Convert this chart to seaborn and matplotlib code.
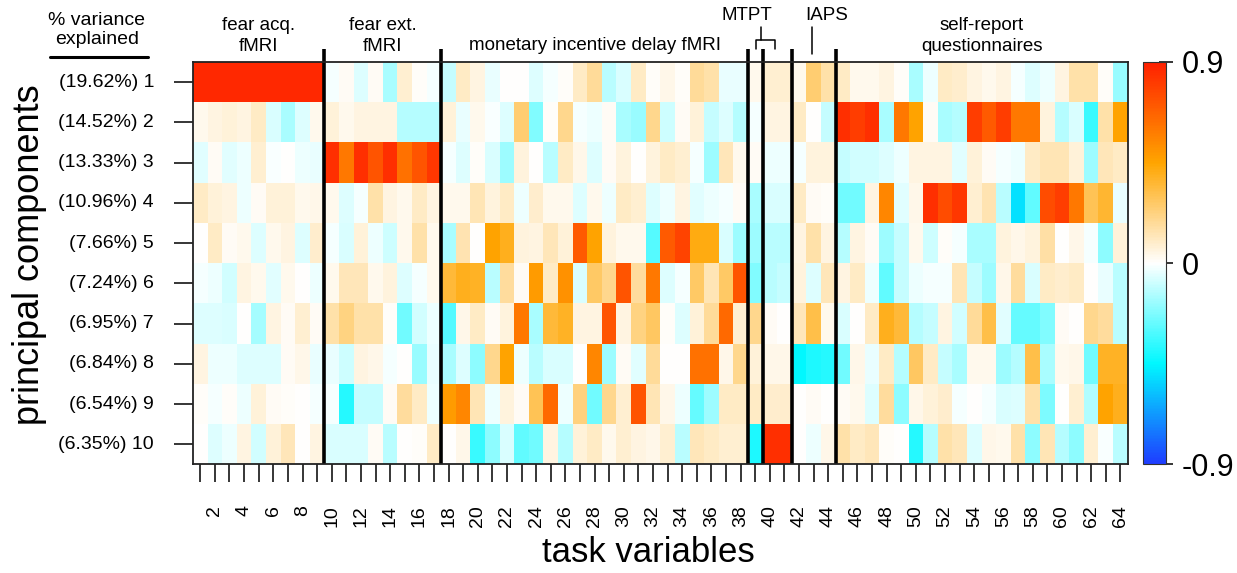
import numpy as np
import pandas as pd
import matplotlib
matplotlib.use("Agg")
import matplotlib.pyplot as plt
from matplotlib.colors import LinearSegmentedColormap
from matplotlib.lines import Line2D
import seaborn as sns

# % variance explained per principal component
variance = ["19.62", "14.52", "13.33", "10.96", "7.66", "7.24", "6.95", "6.84", "6.54", "6.35"]

# loadings of the 64 task variables on each component
pc1 = [0.87, 0.87, 0.87, 0.87, 0.87, 0.87, 0.87, 0.87, 0.87,
       -0.02, 0.02, -0.06, 0.02, -0.15, 0.08, 0.01, -0.02,
       -0.10, 0.10, 0.05, -0.04, 0.00, 0.00, -0.06, -0.02, 0.01, 0.10, 0.18, -0.12, -0.07, 0.10, 0.01, 0.04,
       0.01, 0.18, 0.15, -0.04, -0.04, 0.03, 0.08, 0.08, 0.03, 0.25, 0.15, 0.10, 0.03, 0.03, 0.05,
       0.01, -0.15, -0.03, 0.10, 0.09, 0.05, 0.03, 0.05, -0.02, -0.06, -0.03, 0.05, 0.15, 0.15, 0.01, -0.18]
pc2 = [0.03, 0.05, 0.07, 0.05, 0.10, -0.07, -0.15, -0.06, 0.03,
       0.07, 0.03, 0.05, 0.05, 0.05, -0.13, -0.13, -0.13,
       0.07, -0.04, 0.03, -0.01, -0.06, 0.25, -0.22, 0.01, 0.20, -0.02, -0.03, 0.02, -0.15, -0.18, 0.20, -0.09,
       0.02, 0.07, -0.10, -0.06, -0.13, -0.02, 0.05, 0.05, 0.10, 0.00, -0.10, 0.85, 0.80, 0.85, -0.15,
       0.60, 0.45, 0.02, -0.15, -0.13, 0.80, 0.70, 0.80, 0.60, 0.60, 0.06, -0.13, -0.07, -0.35, 0.15, 0.45]
pc3 = [-0.05, 0.02, -0.05, -0.03, 0.08, -0.01, 0.00, -0.03, -0.04,
       0.85, 0.60, 0.85, 0.72, 0.85, 0.62, 0.72, 0.82,
       -0.02, -0.06, 0.01, -0.07, -0.17, 0.06, 0.00, -0.12, 0.10, 0.04, -0.06, 0.02, 0.06, 0.00, 0.06, 0.10,
       0.08, -0.02, -0.17, 0.12, 0.03, 0.02, -0.03, -0.03, -0.02, 0.06, 0.06, -0.10, -0.08, -0.08, -0.06,
       -0.03, 0.05, 0.05, 0.05, -0.05, 0.07, 0.02, -0.02, -0.03, 0.10, 0.13, 0.13, 0.07, -0.17, 0.12, 0.10]
pc4 = [0.10, 0.07, 0.05, -0.03, 0.02, 0.07, 0.07, 0.03, 0.04,
       0.03, -0.06, -0.02, 0.15, 0.05, 0.03, 0.10, 0.05,
       0.03, 0.03, 0.13, 0.06, 0.10, -0.03, 0.09, 0.03, 0.03, -0.06, 0.03, -0.03, 0.10, 0.08, -0.06, -0.03,
       0.05, -0.05, -0.03, -0.02, 0.02, -0.15, -0.07, -0.07, 0.10, 0.02, 0.01, -0.25, -0.25, 0.05, 0.55,
       -0.05, 0.04, 0.85, 0.75, 0.82, 0.08, 0.14, -0.12, -0.50, -0.28, 0.75, 0.80, 0.60, 0.30, 0.36, -0.04]
pc5 = [0.00, 0.10, 0.02, 0.03, -0.06, 0.03, 0.05, -0.06, 0.09,
       -0.02, -0.07, 0.07, -0.03, -0.09, 0.03, 0.15, 0.03,
       -0.15, 0.14, 0.00, 0.45, 0.40, 0.06, 0.05, 0.12, 0.07, 0.70, 0.45, 0.06, 0.03, 0.03, -0.30, 0.70,
       0.78, 0.42, 0.42, -0.07, -0.17, -0.17, -0.12, -0.12, 0.05, 0.15, 0.05, -0.13, 0.05, 0.02, -0.17,
       -0.10, 0.03, -0.09, 0.01, -0.02, -0.15, -0.15, 0.06, 0.04, 0.06, 0.16, 0.00, 0.04, -0.02, -0.20, 0.07]
pc6 = [-0.02, -0.03, -0.08, 0.05, 0.03, -0.05, 0.03, 0.00, -0.03,
       0.03, 0.12, 0.12, 0.03, 0.06, -0.06, -0.02, 0.03,
       0.35, 0.40, 0.38, -0.12, 0.17, 0.02, 0.48, 0.10, 0.52, -0.07, 0.27, 0.20, 0.72, 0.17, 0.60, -0.06,
       -0.02, 0.27, 0.13, 0.27, 0.72, -0.22, -0.12, -0.10, 0.06, -0.06, 0.12, 0.05, 0.10, -0.03, -0.28,
       -0.10, -0.03, -0.02, -0.02, 0.13, -0.10, -0.17, 0.04, 0.17, -0.07, 0.10, 0.09, 0.10, 0.00, -0.04, -0.12]
pc7 = [-0.06, -0.06, -0.07, 0.00, -0.16, 0.05, 0.02, 0.08, 0.02,
       0.15, 0.22, 0.15, 0.15, 0.01, -0.25, -0.08, -0.03,
       -0.30, 0.04, 0.10, 0.02, 0.06, 0.60, -0.15, 0.35, 0.38, 0.05, 0.05, 0.72, 0.05, 0.22, 0.28, 0.01,
       -0.06, 0.07, 0.18, 0.65, 0.08, 0.20, 0.02, 0.00, 0.12, 0.32, 0.03, -0.07, 0.00, 0.10, 0.40,
       0.35, -0.13, -0.10, 0.05, -0.08, 0.18, 0.32, -0.05, -0.27, -0.27, -0.22, 0.02, 0.00, 0.20, 0.17, -0.12]
pc8 = [0.05, -0.03, -0.03, -0.06, -0.06, -0.06, 0.02, 0.04, -0.04,
       -0.04, -0.09, 0.05, 0.04, -0.02, 0.00, -0.18, -0.04,
       -0.15, -0.06, -0.20, 0.20, 0.45, -0.03, -0.12, -0.07, -0.07, 0.00, 0.55, -0.17, 0.02, -0.05, 0.18, 0.00,
       0.00, 0.62, 0.62, 0.04, 0.20, 0.07, 0.04, 0.04, -0.45, -0.40, -0.38, -0.25, 0.04, -0.04, 0.10,
       -0.13, 0.28, 0.10, -0.10, -0.15, 0.03, 0.03, -0.17, -0.13, 0.32, -0.15, 0.03, 0.04, -0.25, 0.38, 0.38]
pc9 = [0.01, -0.02, 0.01, -0.03, 0.07, 0.02, 0.01, 0.00, -0.02,
       -0.02, -0.38, -0.10, -0.10, 0.02, 0.17, 0.10, -0.03,
       0.48, 0.55, 0.13, -0.03, 0.06, 0.02, 0.30, 0.65, -0.03, 0.23, -0.25, 0.20, 0.08, 0.72, 0.13, 0.04,
       -0.03, -0.27, -0.17, 0.10, 0.10, 0.10, 0.09, 0.09, 0.00, 0.02, 0.00, 0.02, 0.03, -0.06, 0.17,
       -0.20, 0.04, 0.07, 0.09, -0.02, 0.00, -0.02, -0.07, -0.06, 0.15, -0.23, 0.00, 0.08, -0.14, 0.45, 0.40]
pc10 = [0.00, -0.06, -0.03, 0.05, -0.08, 0.07, 0.12, 0.00, 0.05,
        -0.07, -0.07, -0.07, 0.02, -0.12, 0.00, 0.01, 0.10,
        0.00, 0.04, -0.35, -0.20, -0.07, -0.28, -0.25, 0.05, -0.13, 0.07, 0.10, 0.03, 0.08, 0.05, 0.04, 0.08,
        -0.12, 0.12, 0.10, 0.08, 0.08, -0.40, 0.85, 0.85, 0.00, -0.03, 0.04, 0.15, 0.10, 0.12, 0.01,
        0.00, -0.38, -0.13, 0.15, 0.12, -0.06, 0.04, 0.03, 0.15, -0.20, 0.13, -0.13, -0.20, 0.08, -0.01, -0.12]

# task groups: label, first column, last column
groups = [("fear acq.\nfMRI", 1, 9),
          ("fear ext.\nfMRI", 10, 17),
          ("monetary incentive delay fMRI", 18, 38),
          ("self-report\nquestionnaires", 45, 64)]
separators = [9, 17, 38, 39, 41, 44]

rows = [pc1, pc2, pc3, pc4, pc5, pc6, pc7, pc8, pc9, pc10]
n_vars = len(pc1)
task_ids = list(range(1, n_vars + 1))
row_labels = ["(%s%%) %d" % (v, i + 1) for i, v in enumerate(variance)]
col_labels = [str(t) if t % 2 == 0 else "" for t in task_ids]

df = pd.DataFrame(rows, index=row_labels, columns=task_ids)

sns.set_style("ticks")
plt.rcParams["font.family"] = ["Liberation Sans", "DejaVu Sans"]
plt.rcParams["text.color"] = "black"
plt.rcParams["xtick.color"] = "black"
plt.rcParams["ytick.color"] = "black"

cmap = LinearSegmentedColormap.from_list(
    "loading",
    [(0.0, "#1e3cff"), (0.25, "#00f8ff"), (0.5, "#ffffff"), (0.75, "#ffa500"), (1.0, "#ff2000")],
    N=256)

fig = plt.figure(figsize=(12.37, 5.73), dpi=100)
ax = fig.add_axes([0.156, 0.1894, 0.7556, 0.7024])
cax = fig.add_axes([0.924, 0.1894, 0.0186, 0.7024])

sns.heatmap(df, ax=ax, cmap=cmap, vmin=-0.9, vmax=0.9, cbar_ax=cax,
            xticklabels=col_labels, yticklabels=row_labels,
            cbar_kws={"ticks": [-0.9, 0, 0.9]})

for s in ax.spines.values():
    s.set_visible(True)
    s.set_linewidth(1.3)
    s.set_color("#222222")

ax.tick_params(axis="x", bottom=True, length=13, width=1.1, pad=16,
               labelsize=14, labelrotation=90, color="black", labelcolor="black")
ax.tick_params(axis="y", left=True, length=14, width=1.1, pad=14,
               labelsize=14, labelrotation=0, color="black", labelcolor="black")
ax.set_xlabel("")
ax.set_ylabel("")

# separators between task groups
ax.vlines(separators, -0.32, len(rows), colors="black", linewidth=2.6, clip_on=False)

for label, first, last in groups:
    ax.text((first - 1 + last) / 2, -0.64 if "\n" in label else -0.42, label,
            ha="center", va="center", fontsize=13.5, linespacing=1.3, clip_on=False)

ax.text(37.95, -1.15, "MTPT", ha="center", va="center", fontsize=13.5, clip_on=False)
ax.plot([38.9, 38.9], [-0.87, -0.55], color="black", lw=1.1, clip_on=False)
ax.plot([38.55, 38.55, 39.85, 39.85], [-0.33, -0.55, -0.55, -0.33], color="black", lw=1.1, clip_on=False)
ax.text(43.4, -1.15, "IAPS", ha="center", va="center", fontsize=13.5, clip_on=False)
ax.plot([42.4, 42.4], [-0.87, -0.2], color="black", lw=1.1, clip_on=False)

cbar = ax.collections[0].colorbar
cbar.outline.set_linewidth(0.8)
cbar.outline.set_edgecolor("#333333")
cbar.set_ticklabels(["-0.9", "0", "0.9"])
cax.tick_params(labelsize=22, length=10, width=1.1, direction="inout", pad=6,
                color="black", labelcolor="black")

fig.text(0.0784, 0.9476, "% variance\nexplained", ha="center", va="center",
         fontsize=14, linespacing=1.2)
fig.add_artist(Line2D([50 / 1237, 148 / 1237], [1 - 57 / 573, 1 - 57 / 573],
                      color="black", lw=2.2))
fig.text(0.024, 0.555, "principal components", rotation=90, ha="center", va="center", fontsize=26)
fig.text(0.524, 0.035, "task variables", ha="center", va="center", fontsize=25)

fig.savefig("out.png", dpi=100)
